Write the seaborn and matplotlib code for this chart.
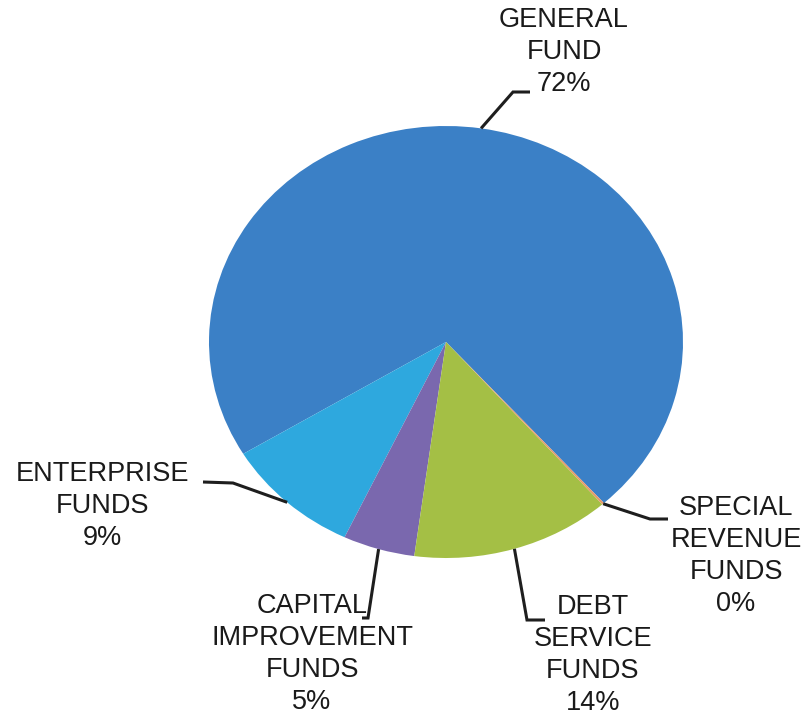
import numpy as np
import matplotlib
matplotlib.use("Agg")
import matplotlib.pyplot as plt
import seaborn as sns

# ---- data ----
categories = ["GENERAL\nFUND", "ENTERPRISE\nFUNDS", "CAPITAL\nIMPROVEMENT\nFUNDS",
              "DEBT\nSERVICE\nFUNDS", "SPECIAL\nREVENUE\nFUNDS"]
values = [72.05, 9.3, 4.9, 13.6, 0.15]
colors = ["#3B80C6", "#2EA8DE", "#7A68AE", "#A4BF45", "#E59A6A"]

# ---- layout (pixels) ----
W, H = 805, 717
CX, CY, RX, RY = 446, 342, 237, 216
text_pos = [(564, 52), (102, 506), (312, 654), (593, 655), (736, 556)]
elbows = [((513, 92), (530, 92)), ((233, 483), (203, 482)), ((368, 618), (362, 618)),
          ((527, 620), (545, 620)), ((650, 519), (668, 519))]

sns.set_theme(style="white")
plt.rcParams['font.family'] = ['Liberation Sans', 'DejaVu Sans']

def X(px):
    return (px - CX) / RX

def Y(py):
    return (CY - py) / RY

fig = plt.figure(figsize=(W / 100, H / 100), dpi=100)
ax = fig.add_axes([0, 0, 1, 1])
wedges, _ = ax.pie(values, colors=colors, startangle=-48.2, counterclock=True,
                   wedgeprops=dict(linewidth=0))
ax.set_aspect('auto')
ax.set_xlim(X(0), X(W))
ax.set_ylim(Y(H), Y(0))
ax.axis('off')

total = sum(values)
for w, cat, v, tp, (e1, e2) in zip(wedges, categories, values, text_pos, elbows):
    mid = np.deg2rad((w.theta1 + w.theta2) / 2)
    ax_, ay_ = np.cos(mid), np.sin(mid)
    ax.plot([ax_, X(e1[0]), X(e2[0])], [ay_, Y(e1[1]), Y(e2[1])],
            color="#1e1e1e", lw=2.2, solid_capstyle='butt', solid_joinstyle='miter')
    pct = f"{round(v / total * 100):d}%"
    ax.text(X(tp[0]), Y(tp[1]), f"{cat}\n{pct}", ha='center', va='center',
            multialignment='center', fontsize=19.5, color="#1a1a1a", linespacing=1.3)

fig.savefig("out.png", dpi=100, facecolor='white')
